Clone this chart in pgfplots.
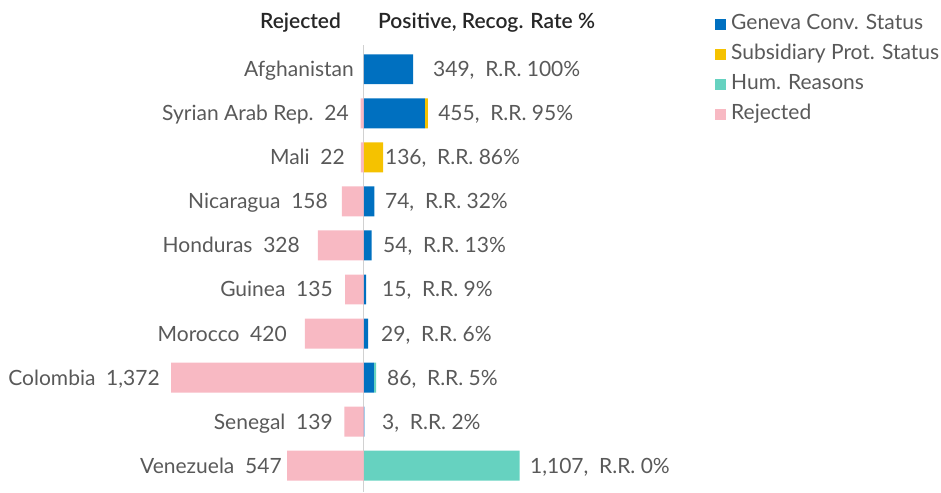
\documentclass[border=0pt]{standalone}
\usepackage{pgfplots}
\pgfplotsset{compat=1.18}
\usepackage{pgfplotstable}
\usepackage{fontspec}
\setmainfont{Lato}
\newfontfamily\hdrfont{Lato Semibold}
\definecolor{geneva}{HTML}{0070C0}
\definecolor{subs}{HTML}{F5C200}
\definecolor{hum}{HTML}{66D2C0}
\definecolor{rej}{HTML}{F8B9C3}
\definecolor{lbl}{HTML}{595959}
\definecolor{hdr}{HTML}{262626}
\newcommand{\lf}{\fontsize{21}{25}\selectfont}
\pgfplotstableread{
idx rej gen sub hum
0 0 349 0 0
1 -24 434 21 0
2 -22 0 136 0
3 -158 74 0 0
4 -328 54 0 0
5 -135 15 0 0
6 -420 29 0 0
7 -1372 70 0 16
8 -139 3 0 0
9 -547 0 0 1107
}\data
\tikzset{lab/.style={inner sep=0pt, font=\lf, text=lbl}}
\pgfplotsset{base/.style={
  at={(0pt,0pt)}, anchor=south west, scale only axis,
  width=700pt, height=437pt,
  xmin=-2590, xmax=2391, ymin=-0.55, ymax=9.37, y dir=reverse,
  hide axis, clip=false, bar width=0.68},
  sq/.style={legend image code/.code={\fill[##1] (0pt,-5.5pt) rectangle (11pt,5.5pt);}}
}
\begin{document}
\begin{tikzpicture}
\path (0,0) rectangle (941pt,482pt);
\begin{axis}[base]
\addplot[draw=black!18, line width=1pt] coordinates {(0,-0.55) (0,9.6)};
\addplot[xbar, bar shift=0pt, fill=rej, draw=none] table[x=rej, y=idx] {\data};
\node[lab, anchor=base east, yshift=-7.5pt] at (axis cs:-71,0) {Afghanistan};
\node[lab, anchor=base east, yshift=-7.5pt] at (axis cs:-107,1) {Syrian Arab Rep.\ \ 24};
\node[lab, anchor=base east, yshift=-7.5pt] at (axis cs:-135,2) {Mali\ \ 22};
\node[lab, anchor=base east, yshift=-7.5pt] at (axis cs:-256,3) {Nicaragua\ \ 158};
\node[lab, anchor=base east, yshift=-7.5pt] at (axis cs:-455,4) {Honduras\ \ 328};
\node[lab, anchor=base east, yshift=-7.5pt] at (axis cs:-221,5) {Guinea\ \ 135};
\node[lab, anchor=base east, yshift=-7.5pt] at (axis cs:-548,6) {Morocco\ \ 420};
\node[lab, anchor=base east, yshift=-7.5pt] at (axis cs:-1452,7) {Colombia\ \ 1,372};
\node[lab, anchor=base east, yshift=-7.5pt] at (axis cs:-221,8) {Senegal\ \ 139};
\node[lab, anchor=base east, yshift=-7.5pt] at (axis cs:-584,9) {Venezuela\ \ 547};
\end{axis}
\begin{axis}[base, xbar stacked,
  legend style={at={(1.0214,1.0698)}, anchor=north west, draw=none, fill=none,
    inner sep=0pt, font=\lf, text=lbl, row sep=11pt, column sep=5pt,
    nodes={inner sep=0pt, text height=15pt, text depth=4pt}},
  legend cell align=left]
\addplot[fill=geneva, draw=none, sq] table[x=gen, y=idx] {\data};
\addplot[fill=subs, draw=none, sq] table[x=sub, y=idx] {\data};
\addplot[fill=hum, draw=none, sq] table[x=hum, y=idx] {\data};
\addlegendimage{fill=rej, draw=none, sq}
\legend{Geneva Conv. Status, Subsidiary Prot. Status, Hum. Reasons, Rejected}
\node[lab, anchor=base west, yshift=-7.5pt] at (axis cs:491,0) {349,\ \ R.R. 100\%};
\node[lab, anchor=base west, yshift=-7.5pt] at (axis cs:527,1) {455,\ \ R.R. 95\%};
\node[lab, anchor=base west, yshift=-7.5pt] at (axis cs:149,2) {136,\ \ R.R. 86\%};
\node[lab, anchor=base west, yshift=-7.5pt] at (axis cs:149,3) {74,\ \ R.R. 32\%};
\node[lab, anchor=base west, yshift=-7.5pt] at (axis cs:135,4) {54,\ \ R.R. 13\%};
\node[lab, anchor=base west, yshift=-7.5pt] at (axis cs:128,5) {15,\ \ R.R. 9\%};
\node[lab, anchor=base west, yshift=-7.5pt] at (axis cs:121,6) {29,\ \ R.R. 6\%};
\node[lab, anchor=base west, yshift=-7.5pt] at (axis cs:164,7) {86,\ \ R.R. 5\%};
\node[lab, anchor=base west, yshift=-7.5pt] at (axis cs:128,8) {3,\ \ R.R. 2\%};
\node[lab, anchor=base west, yshift=-7.5pt] at (axis cs:1181,9) {1,107,\ \ R.R. 0\%};
\end{axis}
\node[font=\lf\hdrfont, text=hdr, anchor=base] at (300.5pt,453.5pt) {Rejected};
\node[font=\lf\hdrfont, text=hdr, anchor=base] at (486.5pt,453.5pt) {Positive, Recog. Rate \%};
\end{tikzpicture}
\end{document}
